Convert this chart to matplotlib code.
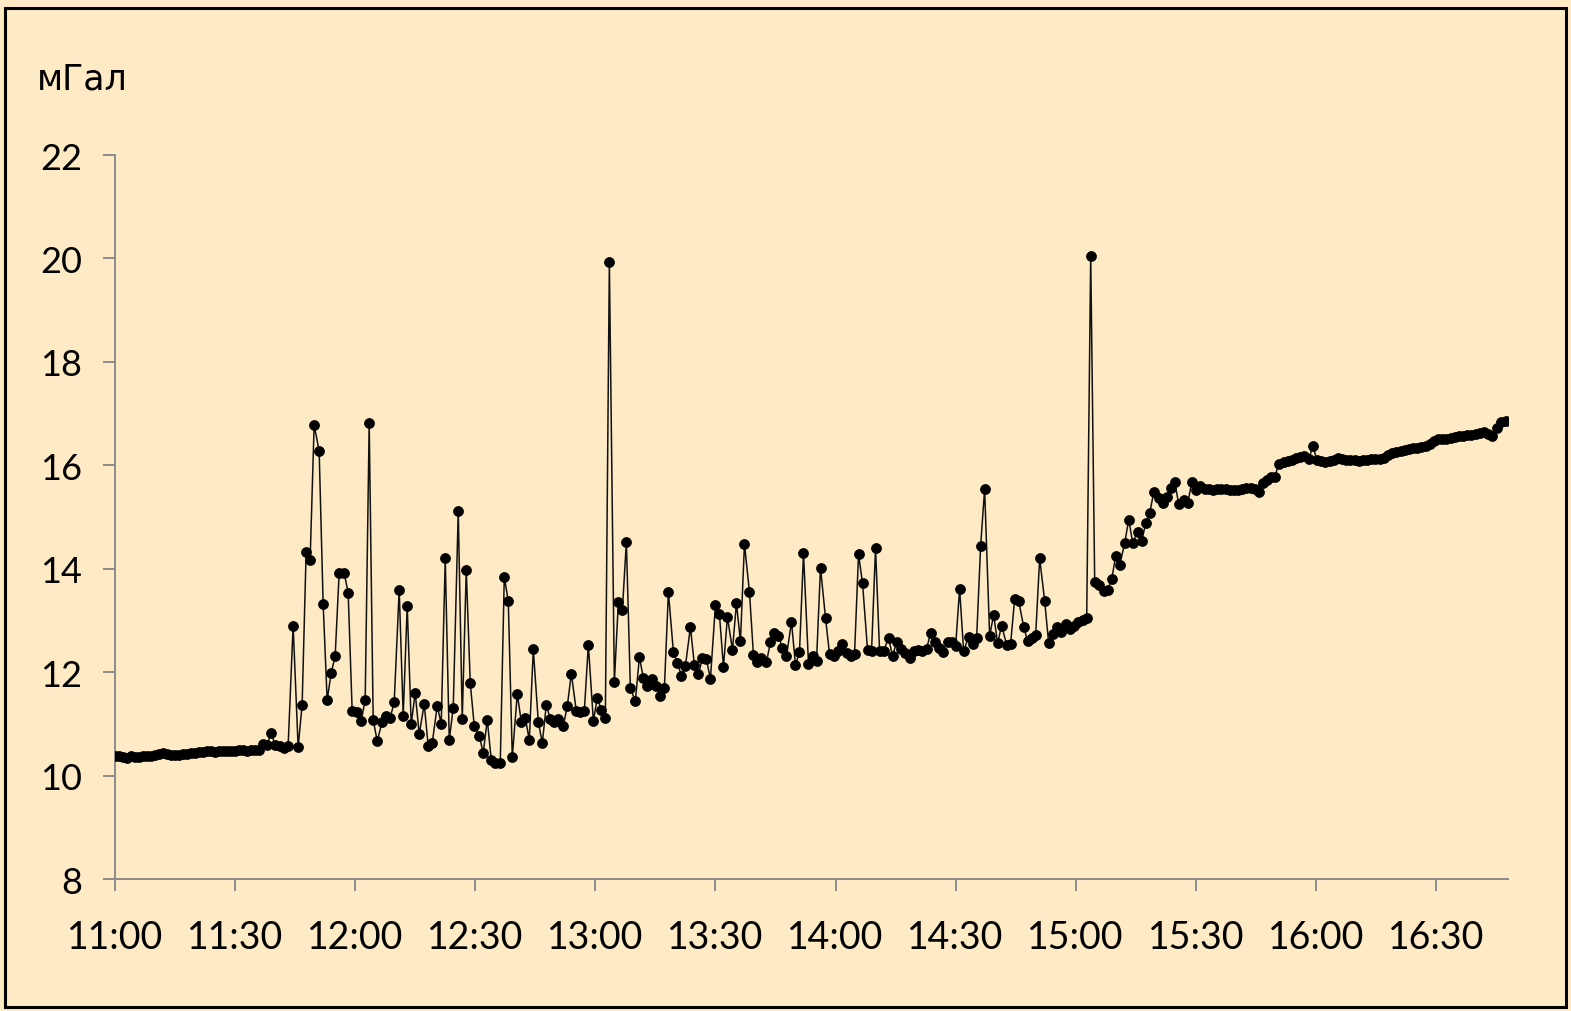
import matplotlib
matplotlib.use("Agg")
import matplotlib.pyplot as plt
from matplotlib.patches import Rectangle

# Gravimeter readings: minutes after 11:00 and measured value (mGal)
minutes = [
    0, 1, 2, 3, 4, 5, 6, 7, 8, 9, 10, 11, 12, 13, 14, 15, 16, 17, 18, 19, 20,
    21, 22, 23, 24, 25, 26, 27, 28, 29, 30, 31, 32, 33, 34, 35, 36, 37, 38, 39, 40,
    41.25, 42.25, 43.25, 44.5, 45.75, 46.75, 47.75, 48.75, 49.75, 51.0, 52.0, 53.0,
    54.0, 55.0, 56.0, 57.25, 58.25, 59.25, 60.5, 61.5, 62.5, 63.5, 64.5, 65.5,
    66.75, 67.75, 68.75, 69.75, 71.0, 72.0, 73.0, 74.0, 75.0, 76.0, 77.25, 78.25,
    79.25, 80.5, 81.5, 82.5, 83.5, 84.5, 85.75, 86.75, 87.75, 88.75, 89.75, 91.0,
    92.0, 93.0, 94.0, 95.0, 96.25, 97.25, 98.25, 99.25, 100.5, 101.5, 102.5, 103.5,
    104.5, 105.75, 106.75, 107.75, 108.75, 109.75, 110.75, 112.0, 113.0, 114.0,
    115.25, 116.25, 117.25, 118.25, 119.5, 120.5, 121.5, 122.5, 123.5, 124.75,
    125.75, 126.75, 127.75, 128.75, 130.0, 131.0, 132.0, 133.0, 134.25, 135.25,
    136.25, 137.25, 138.25, 139.5, 140.5, 141.5, 142.5, 143.75, 144.75, 145.75,
    146.75, 147.75, 148.75, 150.0, 151.0, 152.0, 153.0, 154.25, 155.25, 156.25,
    157.25, 158.5, 159.5, 160.5, 161.5, 162.75, 163.75, 164.75, 165.75, 166.75,
    167.75, 169.0, 170.0, 171.0, 172.0, 173.25, 174.25, 175.25, 176.25, 177.5,
    178.5, 179.5, 180.5, 181.5, 182.75, 183.75, 184.75, 185.75, 186.75, 188.0,
    189.0, 190.0, 191.0, 192.0, 193.25, 194.25, 195.25, 196.25, 197.25, 198.5,
    199.5, 200.5, 201.5, 202.75, 203.75, 204.75, 205.75, 206.75, 208.0, 209.0,
    210.0, 211.0, 212.0, 213.25, 214.25, 215.25, 216.25, 217.25, 218.5, 219.5,
    220.5, 221.5, 222.75, 223.75, 224.75, 225.75, 227.0, 228.0, 229.0, 230.0,
    231.0, 232.25, 233.25, 234.25, 235.25, 236.25, 237.5, 238.5, 239.5, 240.5,
    241.75, 242.75, 243.75, 244.75, 245.75, 247.0, 248.0, 249.0, 250.0, 251.0,
    252.25, 253.25, 254.25, 255.5, 256.5, 257.5, 258.5, 259.5, 260.75, 261.75,
    262.75, 263.75, 264.75, 265.75, 267.0, 268.0, 269.0, 270.0, 271.0, 272.25,
    273.25, 274.25, 275.25, 276.25, 277.5, 278.5, 279.5, 280.5, 281.5, 282.5,
    283.75, 284.75, 285.75, 286.75, 287.75, 288.75, 289.75, 290.75, 292.0, 293.0,
    294.0, 295.0, 296.0, 297.0, 298.25, 299.25, 300.25, 301.25, 302.25, 303.5,
    304.5, 305.5, 306.5, 307.5, 308.5, 309.75, 310.75, 311.75, 312.75, 313.75,
    314.75, 316.0, 317.0, 318.0, 319.0, 320.0, 321.25, 322.25, 323.25, 324.25,
    325.25, 326.25, 327.5, 328.5, 329.5, 330.5, 331.5, 332.5, 333.75, 334.75,
    335.75, 336.75, 337.75, 338.75, 340.0, 341.0, 342.0, 343.0, 344.0, 345.25,
    346.25, 347.5,
]

gravity = [
    10.38, 10.37, 10.36, 10.35, 10.37, 10.36, 10.36, 10.37, 10.38, 10.38, 10.39,
    10.41, 10.43, 10.42, 10.39, 10.39, 10.40, 10.41, 10.42, 10.43, 10.44, 10.45,
    10.46, 10.47, 10.47, 10.46, 10.47, 10.48, 10.48, 10.47, 10.48, 10.49, 10.49,
    10.48, 10.49, 10.49, 10.50, 10.61, 10.60, 10.82, 10.60,
    10.57, 10.53, 10.57, 12.90, 10.55, 11.37, 14.33, 14.17, 16.78, 16.28, 13.32,
    11.46, 11.98, 12.31, 13.92, 13.92, 13.53, 11.25, 11.23, 11.06, 11.46, 16.82,
    11.08, 10.67, 11.04, 11.15, 11.12, 11.42, 13.59, 11.16, 13.28, 11.00, 11.60,
    10.80, 11.38, 10.57, 10.63, 11.35, 11.00, 14.20, 10.69, 11.31, 15.12, 11.09,
    13.98, 11.79, 10.96, 10.77, 10.44, 11.08, 10.30, 10.24, 10.24, 13.84, 13.38,
    10.36, 11.58, 11.04, 11.12, 10.69, 12.44, 11.04, 10.63, 11.37, 11.09, 11.04,
    11.09, 10.96, 11.35, 11.97, 11.25, 11.23, 11.25, 12.53, 11.06, 11.50, 11.27,
    11.12, 19.93, 11.81, 13.36, 13.20, 14.52, 11.69, 11.44, 12.29, 11.89, 11.73,
    11.87, 11.73, 11.54, 11.69, 13.55, 12.39, 12.18, 11.93, 12.12, 12.87, 12.14,
    11.96, 12.27, 12.25, 11.87, 13.30, 13.12, 12.10, 13.07, 12.43, 13.33, 12.60,
    14.48, 13.55, 12.33, 12.20, 12.27, 12.20, 12.58, 12.76, 12.70, 12.47, 12.31,
    12.97, 12.14, 12.39, 14.30, 12.16, 12.31, 12.22, 14.02, 13.05, 12.35, 12.31,
    12.41, 12.54, 12.37, 12.31, 12.35, 14.28, 13.72, 12.43, 12.41, 14.40, 12.41,
    12.41, 12.66, 12.31, 12.58, 12.45, 12.37, 12.27, 12.41, 12.43, 12.41, 12.45,
    12.76, 12.58, 12.47, 12.39, 12.58, 12.58, 12.50, 13.61, 12.41, 12.68, 12.55,
    12.66, 14.44, 15.54, 12.70, 13.11, 12.56, 12.90, 12.53, 12.55, 13.42, 13.38,
    12.88, 12.60, 12.66, 12.72, 14.20, 13.38, 12.56, 12.74, 12.88, 12.78, 12.93,
    12.83, 12.90, 12.97, 13.00, 13.05, 20.05, 13.74, 13.69, 13.57, 13.59, 13.80,
    14.25, 14.07, 14.50, 14.95, 14.50, 14.72, 14.54, 14.88, 15.08, 15.48, 15.37,
    15.27, 15.38, 15.56, 15.67, 15.25, 15.33, 15.27, 15.67, 15.52, 15.60, 15.55,
    15.55, 15.53, 15.54, 15.55, 15.55, 15.53, 15.52, 15.53, 15.54, 15.56, 15.56,
    15.54, 15.48, 15.66, 15.72, 15.78, 15.78, 16.03, 16.06, 16.08, 16.10, 16.14,
    16.16, 16.18, 16.12, 16.38, 16.10, 16.08, 16.07, 16.08, 16.10, 16.15, 16.12,
    16.10, 16.11, 16.10, 16.09, 16.10, 16.10, 16.12, 16.13, 16.12, 16.15, 16.20,
    16.24, 16.26, 16.27, 16.30, 16.32, 16.33, 16.34, 16.36, 16.38, 16.42, 16.48,
    16.50, 16.50, 16.51, 16.53, 16.55, 16.56, 16.57, 16.58, 16.58, 16.61, 16.63,
    16.64, 16.60, 16.56, 16.73, 16.83, 16.85,
]

tick_minutes = [0, 30, 60, 90, 120, 150, 180, 210, 240, 270, 300, 330]
tick_labels = ["11:00", "11:30", "12:00", "12:30", "13:00", "13:30",
               "14:00", "14:30", "15:00", "15:30", "16:00", "16:30"]
y_ticks = [8, 10, 12, 14, 16, 18, 20, 22]
unit_label = "мГал"

bg = "#FEEAC4"
axis_grey = "#8C8C8C"

fig = plt.figure(figsize=(15.71, 10.12), dpi=100, facecolor=bg)
ax = fig.add_axes([0.0732, 0.1304, 0.8867, 0.7154], facecolor=bg)

ax.plot(minutes, gravity, color="#111111", linewidth=1.1,
        marker="o", markersize=7.2, markerfacecolor="black",
        markeredgecolor="black", markeredgewidth=0.5, zorder=3)

ax.set_xlim(0, 348)
ax.set_ylim(8, 22)
ax.set_xticks(tick_minutes)
ax.set_xticklabels(tick_labels)
ax.set_yticks(y_ticks)

for side in ("top", "right"):
    ax.spines[side].set_visible(False)
for side in ("left", "bottom"):
    ax.spines[side].set_color(axis_grey)
    ax.spines[side].set_linewidth(1.4)

ax.tick_params(axis="both", direction="out", length=8.5, width=1.4,
               color=axis_grey, labelcolor="black")
ax.tick_params(axis="y", pad=15)
ax.tick_params(axis="x", pad=20)
for lbl in ax.get_xticklabels():
    lbl.set_fontfamily(["Lato", "DejaVu Sans"])
    lbl.set_fontsize(27)
for lbl in ax.get_yticklabels():
    lbl.set_fontfamily(["Lato", "DejaVu Sans"])
    lbl.set_fontsize(26)

fig.text(0.0232, 0.912, unit_label, fontsize=25, family=["DejaVu Sans"],
         ha="left", va="baseline", color="black")

# outer frame around the whole figure
fig.patches.append(Rectangle((0.0035, 0.004), 0.993, 0.987,
                             transform=fig.transFigure, fill=False,
                             edgecolor="black", linewidth=2.2))

fig.savefig("out.png", dpi=100, facecolor=bg)
